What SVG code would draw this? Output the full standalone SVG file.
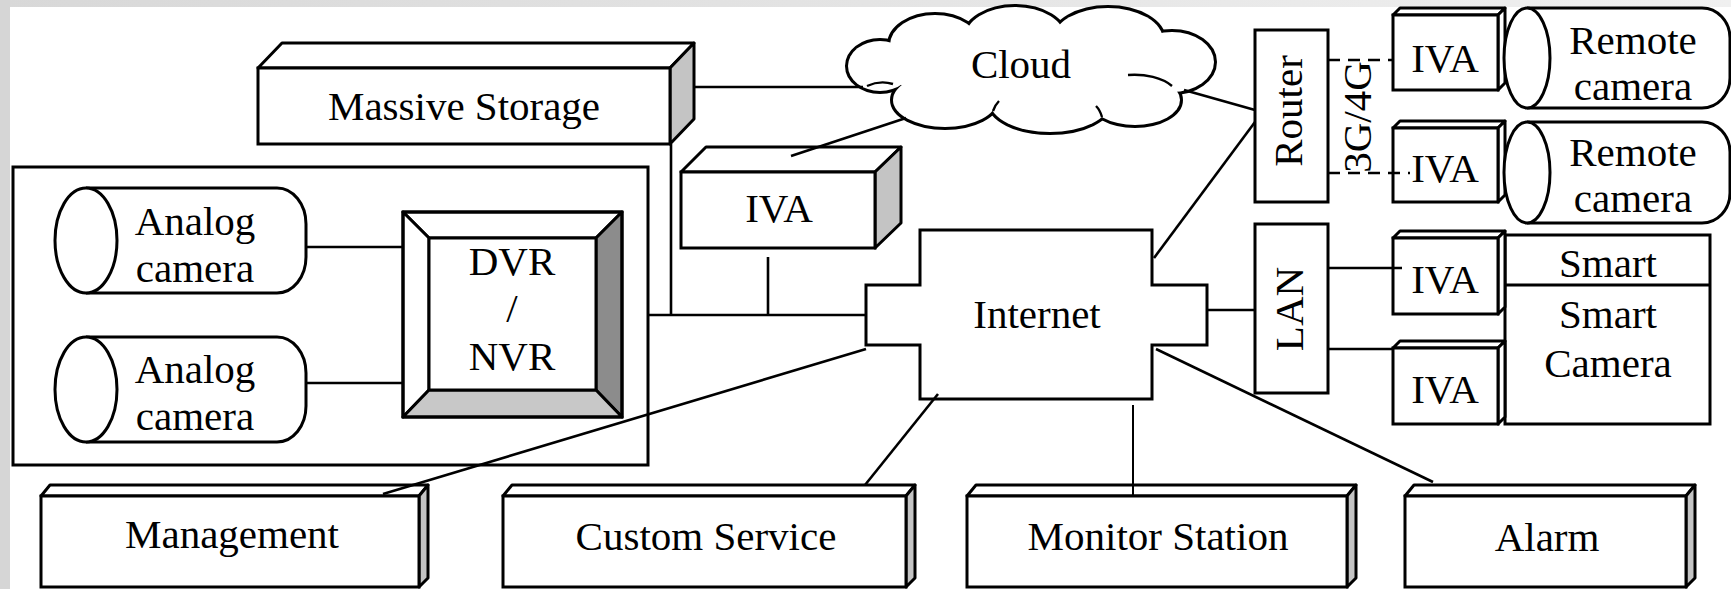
<svg xmlns="http://www.w3.org/2000/svg" width="1731" height="589" viewBox="0 0 1731 589">
  <defs>
    <linearGradient id="edgeTop" x1="0" y1="0" x2="1" y2="0">
      <stop offset="0" stop-color="#d8d8d8"/>
      <stop offset="1" stop-color="#f0f0f0"/>
    </linearGradient>
    <!-- lobes of the cloud outline, reused for the stroke pass and the fill pass -->
    <g id="cloudLobes">
      <ellipse cx="880" cy="66" rx="32" ry="25"/>
      <ellipse cx="935" cy="45" rx="45" ry="30"/>
      <ellipse cx="1015" cy="38" rx="50" ry="31"/>
      <ellipse cx="1108" cy="40" rx="55" ry="32"/>
      <ellipse cx="1172" cy="62" rx="42" ry="30"/>
      <ellipse cx="1135" cy="100" rx="45" ry="25"/>
      <ellipse cx="1050" cy="102" rx="60" ry="30"/>
      <ellipse cx="945" cy="100" rx="52" ry="27"/>
    </g>
  </defs>
  <style>
    .box{fill:#fff;stroke:#000;stroke-width:3}
    .side{fill:#c4c4c4;stroke:#000;stroke-width:3;stroke-linejoin:round}
    .face{fill:#fff;stroke:#000;stroke-width:3;stroke-linejoin:round}
    .thin{fill:none;stroke:#000;stroke-width:2.4}
    .lbl{font-family:"Liberation Serif","Times New Roman",serif;font-size:41px;fill:#000;text-anchor:middle}
    .wire{fill:none;stroke:#000;stroke-width:2.6}
    .dash{stroke-dasharray:12 8}
  </style>

  <!-- page background with shaded margins -->
  <rect x="0" y="0" width="1731" height="589" fill="#fff"/>
  <rect x="0" y="0" width="1731" height="7" fill="url(#edgeTop)"/>
  <rect x="0" y="0" width="10" height="589" fill="#d6d6d6"/>

  <!-- local recording site -->
  <g id="site">
    <rect class="box" x="13" y="167" width="635" height="298"/>
  </g>

  <g id="analog-camera-1">
    <path class="box" d="M86 188 H277 A29 36 0 0 1 306 224 V257 A29 36 0 0 1 277 293 H86"/>
    <ellipse class="box" cx="86" cy="240.5" rx="31" ry="52.5"/>
    <text class="lbl" x="195" y="235">Analog</text>
    <text class="lbl" x="195" y="282">camera</text>
  </g>

  <g id="analog-camera-2">
    <path class="box" d="M86 337 H277 A29 36 0 0 1 306 373 V406 A29 36 0 0 1 277 442 H86"/>
    <ellipse class="box" cx="86" cy="389.5" rx="31" ry="52.5"/>
    <text class="lbl" x="195" y="383">Analog</text>
    <text class="lbl" x="195" y="430">camera</text>
  </g>

  <g id="dvr-nvr">
    <polygon class="face" points="403,212 622,212 596,238 429,238"/>
    <polygon class="face" points="403,212 429,238 429,390 403,417"/>
    <polygon class="face" style="fill:#8c8c8c" points="622,212 622,417 596,390 596,238"/>
    <polygon class="face" style="fill:#c8c8c8" points="403,417 622,417 596,390 429,390"/>
    <rect class="box" x="429" y="238" width="167" height="152"/>
    <rect class="box" style="fill:none" x="403" y="212" width="219" height="205"/>
    <text class="lbl" x="512" y="275">DVR</text>
    <text class="lbl" x="512" y="322">/</text>
    <text class="lbl" x="512" y="370">NVR</text>
  </g>

  <g id="massive-storage">
    <polygon class="face" points="258,68 282,43 694,43 670,68"/>
    <polygon class="side" points="670,68 694,43 694,119 670,144"/>
    <rect class="box" x="258" y="68" width="412" height="76"/>
    <text class="lbl" x="464" y="120">Massive Storage</text>
  </g>

  <g id="cloud">
    <use href="#cloudLobes" fill="#fff" stroke="#000" stroke-width="6"/>
    <use href="#cloudLobes" fill="#fff"/>
    <ellipse cx="1030" cy="70" rx="140" ry="38" fill="#fff"/>
    <path class="thin" d="M867 86 Q880 80 893 84 M1172 86 A45 25 0 0 0 1128 75 M993 111 Q995 105 999 101 M1102 117 Q1100 110 1096 106"/>
    <text class="lbl" x="1021" y="78">Cloud</text>
  </g>

  <g id="iva-center">
    <polygon class="face" points="681,172 706,147 901,147 875,172"/>
    <polygon class="side" points="875,172 901,147 901,223 875,248"/>
    <rect class="box" x="681" y="172" width="194" height="76"/>
    <text class="lbl" x="779" y="222">IVA</text>
  </g>

  <g id="internet">
    <path class="box" d="M920 230 H1152 V285 H1207 V345 H1152 V399 H920 V345 H866 V285 H920 Z"/>
    <text class="lbl" x="1037" y="328">Internet</text>
  </g>

  <g id="router">
    <rect class="box" x="1255" y="30" width="73" height="172"/>
    <text class="lbl" transform="translate(1302 111) rotate(-90)">Router</text>
  </g>

  <g id="lan">
    <rect class="box" x="1255" y="224" width="73" height="169"/>
    <text class="lbl" transform="translate(1303 309) rotate(-90)">LAN</text>
  </g>

  <g id="remote-iva-1">
    <polygon class="face" points="1393,15 1400,8 1505,8 1498,15"/>
    <polygon class="face" points="1498,15 1505,8 1505,83 1498,90"/>
    <rect class="box" x="1393" y="15" width="105" height="75"/>
    <text class="lbl" x="1445" y="72">IVA</text>
  </g>

  <g id="remote-camera-1">
    <path class="box" d="M1527 8 H1702 A28 30 0 0 1 1730 38 V78 A28 30 0 0 1 1702 108 H1527"/>
    <ellipse class="box" cx="1527" cy="58" rx="23" ry="50"/>
    <text class="lbl" x="1633" y="54">Remote</text>
    <text class="lbl" x="1633" y="100">camera</text>
  </g>

  <g id="remote-iva-2">
    <polygon class="face" points="1393,128 1400,121 1505,121 1498,128"/>
    <polygon class="face" points="1498,128 1505,121 1505,195 1498,202"/>
    <rect class="box" x="1393" y="128" width="105" height="74"/>
    <text class="lbl" x="1445" y="182">IVA</text>
  </g>

  <g id="remote-camera-2">
    <path class="box" d="M1527 122 H1702 A28 30 0 0 1 1730 152 V193 A28 30 0 0 1 1702 223 H1527"/>
    <ellipse class="box" cx="1527" cy="172.5" rx="23" ry="50.5"/>
    <text class="lbl" x="1633" y="166">Remote</text>
    <text class="lbl" x="1633" y="212">camera</text>
  </g>

  <g id="smart-camera">
    <rect class="box" x="1505" y="235" width="205" height="189"/>
    <line x1="1505" y1="285" x2="1710" y2="285" stroke="#000" stroke-width="3"/>
    <text class="lbl" x="1608" y="277">Smart</text>
    <text class="lbl" x="1608" y="328">Smart</text>
    <text class="lbl" x="1608" y="377">Camera</text>
  </g>

  <g id="smart-iva-1">
    <polygon class="face" points="1393,238 1400,231 1505,231 1498,238"/>
    <polygon class="face" points="1498,238 1505,231 1505,307 1498,314"/>
    <rect class="box" x="1393" y="238" width="105" height="76"/>
    <text class="lbl" x="1445" y="293">IVA</text>
  </g>

  <g id="smart-iva-2">
    <polygon class="face" points="1393,348 1400,341 1505,341 1498,348"/>
    <polygon class="face" points="1498,348 1505,341 1505,417 1498,424"/>
    <rect class="box" x="1393" y="348" width="105" height="76"/>
    <text class="lbl" x="1445" y="403">IVA</text>
  </g>

  <g id="management">
    <polygon class="face" points="41,496 50,485 428,485 419,496"/>
    <polygon class="side" points="419,496 428,485 428,578 419,587"/>
    <rect class="box" x="41" y="496" width="378" height="91"/>
    <text class="lbl" x="232" y="548">Management</text>
  </g>

  <g id="custom-service">
    <polygon class="face" points="503,496 512,485 915,485 906,496"/>
    <polygon class="side" points="906,496 915,485 915,578 906,587"/>
    <rect class="box" x="503" y="496" width="403" height="91"/>
    <text class="lbl" x="706" y="550">Custom Service</text>
  </g>

  <g id="monitor-station">
    <polygon class="face" points="967,496 976,485 1356,485 1347,496"/>
    <polygon class="side" points="1347,496 1356,485 1356,578 1347,587"/>
    <rect class="box" x="967" y="496" width="380" height="91"/>
    <text class="lbl" x="1158" y="550">Monitor Station</text>
  </g>

  <g id="alarm">
    <polygon class="face" points="1405,496 1414,485 1695,485 1686,496"/>
    <polygon class="side" points="1686,496 1695,485 1695,578 1686,587"/>
    <rect class="box" x="1405" y="496" width="281" height="91"/>
    <text class="lbl" x="1547" y="551">Alarm</text>
  </g>

  <!-- links between the nodes -->
  <g id="connectors" class="wire">
    <path d="M695 87 H863"/>
    <path d="M906 118 L791 156"/>
    <path d="M1184 90 L1255 110"/>
    <path d="M671 144 V315"/>
    <path d="M648 315 H866"/>
    <path d="M768 257 V315"/>
    <path d="M306 247 H403"/>
    <path d="M306 383 H403"/>
    <path d="M1154 258 L1255 122"/>
    <path d="M1207 310 H1255"/>
    <path class="dash" d="M1328 60 H1393"/>
    <path class="dash" d="M1328 173 H1410"/>
    <path d="M1328 268 H1402"/>
    <path d="M1328 349 H1393"/>
    <path d="M866 349 L383 494"/>
    <path d="M938 394 L865 485"/>
    <path d="M1133 405 V496" style="stroke-width:2"/>
    <path d="M1156 349 L1433 482"/>
  </g>

  <text class="lbl" transform="translate(1371 117) rotate(-90)">3G/4G</text>
</svg>
